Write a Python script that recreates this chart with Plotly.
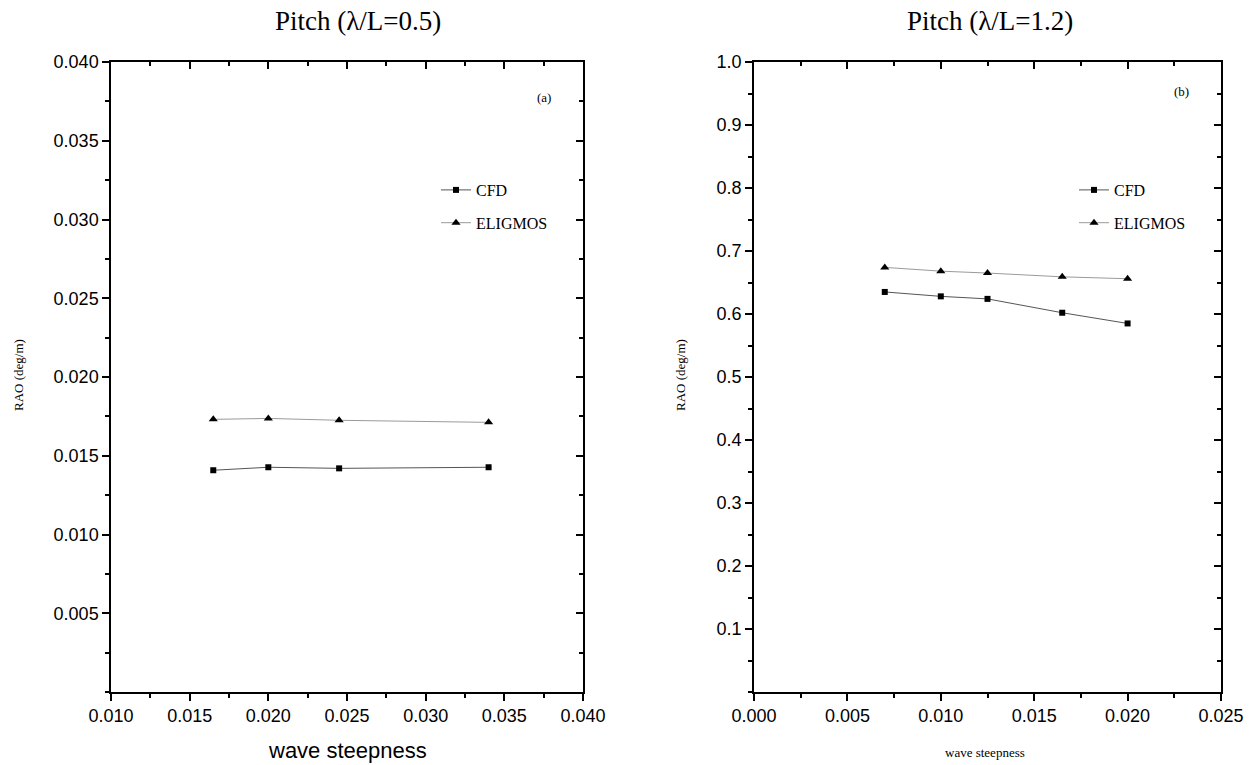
import plotly.graph_objects as go

# Panel (a): lambda/L = 0.5
xa = [0.0165, 0.020, 0.0245, 0.034]
cfd_a = [0.01408, 0.01427, 0.01420, 0.01427]
elig_a = [0.01731, 0.01737, 0.01725, 0.01712]

# Panel (b): lambda/L = 1.2
xb = [0.007, 0.010, 0.0125, 0.0165, 0.020]
cfd_b = [0.635, 0.628, 0.624, 0.602, 0.585]
elig_b = [0.674, 0.668, 0.665, 0.659, 0.656]

ya_ticks = [0.005, 0.010, 0.015, 0.020, 0.025, 0.030, 0.035, 0.040]
xa_ticks = [0.010, 0.015, 0.020, 0.025, 0.030, 0.035, 0.040]
yb_ticks = [0.1, 0.2, 0.3, 0.4, 0.5, 0.6, 0.7, 0.8, 0.9, 1.0]
xb_ticks = [0.000, 0.005, 0.010, 0.015, 0.020, 0.025]

W, H = 1255, 765
SERIF = "Liberation Serif, Times New Roman, serif"
SANS = "Liberation Sans, Arial, sans-serif"

def px(x):
    return x / W

def py(y):
    return 1 - y / H

dom_a = [px(111), px(583)]
dom_b = [px(754), px(1221)]
dom_y = [py(692), py(62)]

fig = go.Figure()

cfd_style = dict(mode="lines+markers", line=dict(color="#555555", width=1),
                 marker=dict(symbol="square", size=6, color="black"))
elig_style = dict(mode="lines+markers", line=dict(color="#9a9a9a", width=1),
                  marker=dict(symbol="triangle-up", size=8, color="black"))

fig.add_trace(go.Scatter(x=xa, y=cfd_a, name="CFD", xaxis="x", yaxis="y",
                         legend="legend", legendgroup="a1", **cfd_style))
fig.add_trace(go.Scatter(x=xa, y=elig_a, name="ELIGMOS", xaxis="x", yaxis="y",
                         legend="legend", legendgroup="a2", **elig_style))
fig.add_trace(go.Scatter(x=xb, y=cfd_b, name="CFD", xaxis="x2", yaxis="y2",
                         legend="legend2", legendgroup="b1", **cfd_style))
fig.add_trace(go.Scatter(x=xb, y=elig_b, name="ELIGMOS", xaxis="x2", yaxis="y2",
                         legend="legend2", legendgroup="b2", **elig_style))

tickfont = dict(family=SANS, size=18, color="black")

def main_axis(domain, rng, tickvals, fmt, dtick_minor, anchor):
    return dict(domain=domain, range=rng, tickvals=tickvals, tickformat=fmt,
                ticks="outside", ticklen=7, tickwidth=1.5, tickcolor="black",
                showline=True, linecolor="black", linewidth=1.5,
                showgrid=False, zeroline=False, tickfont=tickfont,
                anchor=anchor, automargin=False,
                minor=dict(ticks="outside", ticklen=4, tickwidth=1.5,
                           tickcolor="black", dtick=dtick_minor, showgrid=False))

def mirror_axis(domain, rng, dtick, dtick_minor, side, overlay, anchor):
    return dict(domain=domain, range=rng, side=side, overlaying=overlay,
                anchor=anchor, tick0=0, dtick=dtick, automargin=False,
                ticks="inside", ticklen=7, tickwidth=1.5, tickcolor="black",
                showline=True, linecolor="black", linewidth=1.5,
                showticklabels=False, showgrid=False, zeroline=False,
                minor=dict(ticks="inside", ticklen=4, tickwidth=1.5,
                           tickcolor="black", dtick=dtick_minor, showgrid=False))

legend_font = dict(family=SERIF, size=16, color="black")

fig.update_layout(
    width=W, height=H,
    margin=dict(l=0, r=0, t=0, b=0),
    paper_bgcolor="white", plot_bgcolor="white",
    xaxis=main_axis(dom_a, [0.010, 0.040], xa_ticks, ".3f", 0.0025, "y"),
    yaxis=main_axis(dom_y, [0.0, 0.040], ya_ticks, ".3f", 0.0025, "x"),
    xaxis2=main_axis(dom_b, [0.0, 0.025], xb_ticks, ".3f", 0.0025, "y2"),
    yaxis2=main_axis(dom_y, [0.0, 1.0], yb_ticks, ".1f", 0.05, "x2"),
    xaxis3=mirror_axis(dom_a, [0.010, 0.040], 0.005, 0.0025, "top", "x", "y"),
    yaxis3=mirror_axis(dom_y, [0.0, 0.040], 0.005, 0.0025, "right", "y", "x"),
    xaxis4=mirror_axis(dom_b, [0.0, 0.025], 0.005, 0.0025, "top", "x2", "y2"),
    yaxis4=mirror_axis(dom_y, [0.0, 1.0], 0.1, 0.05, "right", "y2", "x2"),
    legend=dict(x=px(436), y=py(173), xanchor="left", yanchor="top",
                bgcolor="rgba(0,0,0,0)", font=legend_font,
                tracegroupgap=9, itemwidth=30),
    legend2=dict(x=px(1074), y=py(173), xanchor="left", yanchor="top",
                 bgcolor="rgba(0,0,0,0)", font=legend_font,
                 tracegroupgap=9, itemwidth=30),
    showlegend=True,
)

# dummy traces to activate mirror axes
fig.add_trace(go.Scatter(x=[None], y=[None], xaxis="x3", yaxis="y3", showlegend=False, hoverinfo="skip"))
fig.add_trace(go.Scatter(x=[None], y=[None], xaxis="x4", yaxis="y4", showlegend=False, hoverinfo="skip"))

ann = [
    dict(text="Pitch (λ/L=0.5)", x=px(358), y=py(21), font=dict(family=SERIF, size=27)),
    dict(text="Pitch (λ/L=1.2)", x=px(990), y=py(21), font=dict(family=SERIF, size=27)),
    dict(text="wave steepness", x=px(347), y=py(750), font=dict(family=SANS, size=22)),
    dict(text="wave steepness", x=px(985), y=py(752), font=dict(family=SERIF, size=13)),
    dict(text="RAO (deg/m)", x=px(18), y=py(375), font=dict(family=SERIF, size=13), textangle=-90),
    dict(text="RAO (deg/m)", x=px(680), y=py(375), font=dict(family=SERIF, size=13), textangle=-90),
    dict(text="(a)", x=px(544), y=py(97), font=dict(family=SERIF, size=13)),
    dict(text="(b)", x=px(1181), y=py(91), font=dict(family=SERIF, size=13)),
]
for a in ann:
    a.setdefault("textangle", 0)
    fig.add_annotation(xref="paper", yref="paper", showarrow=False,
                       xanchor="center", yanchor="middle",
                       **{k: v for k, v in a.items() if k != "font"},
                       font=dict(color="black", **a["font"]))

fig.write_html("out.html")
